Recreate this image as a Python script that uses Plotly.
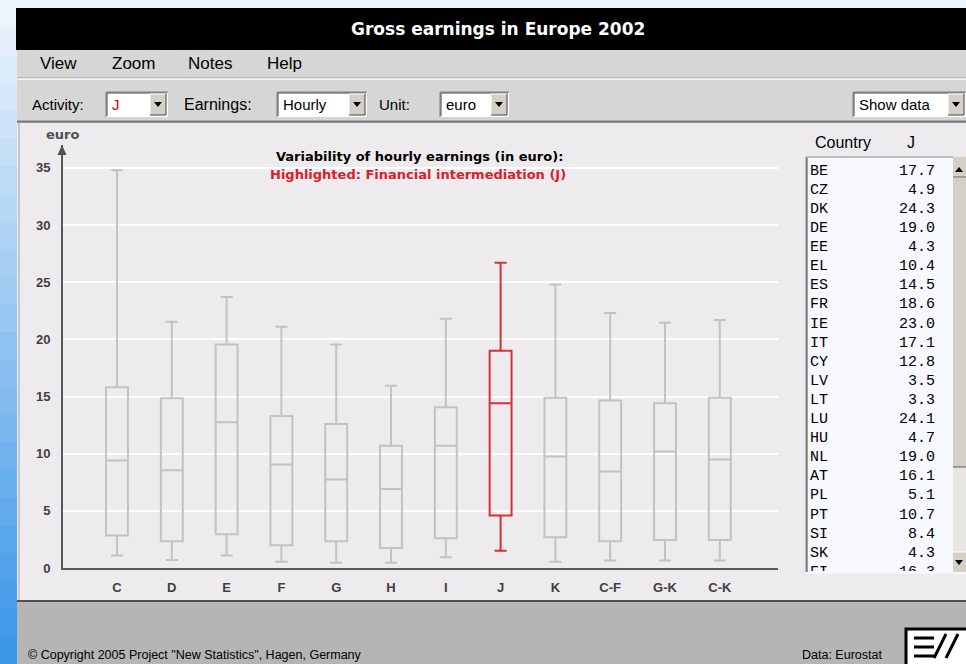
import plotly.graph_objects as go

# boxplot data: hourly earnings (euro) by activity
categories = ["C", "D", "E", "F", "G", "H", "I", "J", "K", "C-F", "G-K", "C-K"]
lower = [1.1, 0.7, 1.1, 0.55, 0.45, 0.45, 0.95, 1.5, 0.55, 0.65, 0.65, 0.65]
q1 = [2.85, 2.35, 2.95, 2.0, 2.35, 1.75, 2.6, 4.6, 2.7, 2.35, 2.45, 2.45]
median = [9.4, 8.55, 12.75, 9.05, 7.75, 6.9, 10.7, 14.4, 9.75, 8.45, 10.2, 9.5]
q3 = [15.8, 14.85, 19.55, 13.3, 12.6, 10.7, 14.05, 19.0, 14.9, 14.65, 14.4, 14.9]
upper = [34.8, 21.55, 23.7, 21.1, 19.55, 15.95, 21.8, 26.7, 24.8, 22.3, 21.45, 21.7]
highlight = "J"
y_ticks = [0, 5, 10, 15, 20, 25, 30, 35]

# side table (activity J)
countries = ["BE", "CZ", "DK", "DE", "EE", "EL", "ES", "FR", "IE", "IT", "CY",
             "LV", "LT", "LU", "HU", "NL", "AT", "PL", "PT", "SI", "SK", "FI"]
values_j = [17.7, 4.9, 24.3, 19.0, 4.3, 10.4, 14.5, 18.6, 23.0, 17.1, 12.8,
            3.5, 3.3, 24.1, 4.7, 19.0, 16.1, 5.1, 10.7, 8.4, 4.3, 16.3]

W, H = 966, 664
PANEL = "#eeebef"
GRAYBAR = "#d6d6d6"
BOTTOM = "#b5b5b5"
SANS = "Liberation Sans"


def X(p):
    return p / W


def Y(p):
    return 1 - p / H


shapes = []
annots = []


def rect(x0, y0, x1, y1, fill, line=None, lw=0, layer="below"):
    shapes.append(dict(type="rect", xref="paper", yref="paper",
                       x0=X(x0), x1=X(x1), y0=Y(y1), y1=Y(y0),
                       fillcolor=fill, line=dict(color=line or fill, width=lw), layer=layer))


def line(x0, y0, x1, y1, color, lw=1, layer="below"):
    shapes.append(dict(type="line", xref="paper", yref="paper",
                       x0=X(x0), x1=X(x1), y0=Y(y0), y1=Y(y1),
                       line=dict(color=color, width=lw), layer=layer))


def tri(pts, color, layer="above"):
    p = "M " + " L ".join(f"{X(a)},{Y(b)}" for a, b in pts) + " Z"
    shapes.append(dict(type="path", xref="paper", yref="paper", path=p,
                       fillcolor=color, line=dict(color=color, width=0), layer=layer))


def text(x, y, s, size, color="#000000", family=SANS, xanchor="left", bold=False):
    annots.append(dict(x=X(x), y=Y(y), xref="paper", yref="paper", text=s, showarrow=False,
                       xanchor=xanchor, yanchor="middle",
                       font=dict(size=size, color=color, family=family,
                                 weight="bold" if bold else "normal")))


def combo(x0, x1, label, color="#000000"):
    y0, y1 = 92, 117
    rect(x0, y0, x1, y1, "#ffffff")
    line(x0, y0, x1, y0, "#808080")
    line(x0, y0, x0, y1, "#808080")
    line(x0 + 1, y0 + 1, x1 - 1, y0 + 1, "#404040")
    line(x0 + 1, y0 + 1, x0 + 1, y1 - 1, "#404040")
    bx0, bx1 = x1 - 18, x1 - 2
    rect(bx0, y0 + 2, bx1, y1 - 2, "#d4d0c8")
    line(bx0, y0 + 2, bx1, y0 + 2, "#ffffff")
    line(bx0, y0 + 2, bx0, y1 - 2, "#ffffff")
    line(bx1, y0 + 2, bx1, y1 - 2, "#404040")
    line(bx0, y1 - 2, bx1, y1 - 2, "#404040")
    cx = (bx0 + bx1) / 2
    tri([(cx - 4, 102), (cx + 4, 102), (cx, 107)], "#000000")
    text(x0 + 4, 105, label, 15, color)


# desktop background strip on the left and top
steps = 24
for i in range(steps):
    t = i / (steps - 1)
    r = int(236 + (60 - 236) * t)
    g = int(244 + (150 - 244) * t)
    b = int(252 + (232 - 252) * t)
    rect(0, H * i / steps, 17, H * (i + 1) / steps + 1, f"rgb({r},{g},{b})")
rect(17, 0, W, 8, "#eef4fb")

# title bar
rect(16, 8, W, 50, "#000000")
text(498, 29, "Gross earnings in Europe 2002", 17, "#ffffff", "DejaVu Sans", "center", True)

# menu bar
rect(17, 50, W, 78, GRAYBAR)
line(17, 78, W, 78, "#a0a0a0")
line(17, 79, W, 79, "#ffffff")
for label, xm in [("View", 38), ("Zoom", 110), ("Notes", 186), ("Help", 265)]:
    text(xm, 64, label, 17)

# toolbar
rect(17, 80, W, 122, GRAYBAR)
line(17, 121, W, 121, "#808080")
line(17, 122, W, 122, "#404040")
text(30, 105, "Activity:", 15)
combo(106, 168, "J", "#e00000")
text(182, 105, "Earnings:", 16)
combo(277, 367, "Hourly")
text(377, 105, "Unit:", 15)
combo(440, 509, "euro")
combo(853, 966, "Show data")

# chart panel
rect(17, 123, W, 600, PANEL)
line(19, 123, 19, 600, "#a0a0a0")

# bottom panel
rect(17, 601, W, H, BOTTOM)
line(17, 601, W, 601, "#505050", 2)
text(26, 655, "\u00a9 Copyright 2005 Project \"New Statistics\", Hagen, Germany", 12.5)
text(800, 655, "Data: Eurostat", 12.5)
# logo
rect(906, 629, W + 2, H + 2, "#ffffff", "#000000", 3)
for yy in (638, 647, 656):
    line(914, yy, 934, yy, "#000000", 3)
line(934, 658, 946, 634, "#000000", 3)
line(946, 658, 958, 634, "#000000", 3)

# side table frame
text(813, 142, "Country", 16)
text(905, 142, "J", 16)
rect(806, 157, 953, 572, "#f8f8ff")
line(806, 157, 953, 157, "#808080")
line(806, 157, 806, 572, "#808080")
line(807, 158, 807, 572, "#404040")
line(806, 573, 966, 573, "#ffffff")
# scrollbar
rect(953, 157, W, 572, "#e8e6e2")
rect(953, 177, W, 467, "#d4d0c8")
line(953, 177, W, 177, "#ffffff")
line(953, 467, W, 467, "#606060")
rect(953, 157, W, 177, "#d4d0c8")
line(953, 177, W, 177, "#606060")
tri([(955, 172), (963, 172), (959, 167)], "#000000")
rect(953, 552, W, 572, "#d4d0c8")
line(953, 552, W, 552, "#ffffff")
tri([(955, 560), (963, 560), (959, 565)], "#000000")

# chart titles and axis decoration
text(419, 156, "Variability of hourly earnings (in euro):", 13, "#000000", "DejaVu Sans", "center", True)
text(418, 175, "Highlighted: Financial intermediation (J)", 13, "#d8202c", "DejaVu Sans", "center", True)
text(62, 134, "euro", 13, "#505050", "DejaVu Sans", "center", True)
tri([(57.5, 155), (66.5, 155), (62, 145)], "#505050")

fig = go.Figure()
idx = [i for i, c in enumerate(categories) if c != highlight]
fig.add_trace(go.Box(
    x=[categories[i] for i in idx],
    q1=[q1[i] for i in idx], median=[median[i] for i in idx], q3=[q3[i] for i in idx],
    lowerfence=[lower[i] for i in idx], upperfence=[upper[i] for i in idx],
    width=0.4, whiskerwidth=0.55, boxpoints=False,
    line=dict(color="#c2c2c2", width=2), fillcolor="rgba(0,0,0,0)", showlegend=False,
))
j = categories.index(highlight)
fig.add_trace(go.Box(
    x=[highlight], q1=[q1[j]], median=[median[j]], q3=[q3[j]],
    lowerfence=[lower[j]], upperfence=[upper[j]],
    width=0.4, whiskerwidth=0.55, boxpoints=False,
    line=dict(color="#d8303a", width=2), fillcolor="rgba(0,0,0,0)", showlegend=False,
))

# table rows as text traces on their own axes, clipped to the list box
rows = list(range(len(countries)))
monofont = dict(family="Liberation Mono", size=15, color="#000000")
fig.add_trace(go.Scatter(x=[0] * len(rows), y=rows, text=countries, mode="text",
                         textposition="middle right", textfont=monofont, cliponaxis=True,
                         xaxis="x2", yaxis="y2", showlegend=False, hoverinfo="skip"))
fig.add_trace(go.Scatter(x=[1] * len(rows), y=rows, text=[f"{v:.1f}" for v in values_j],
                         mode="text", textposition="middle left", textfont=monofont,
                         cliponaxis=True, xaxis="x2", yaxis="y2", showlegend=False,
                         hoverinfo="skip"))

tickfont = dict(family=SANS, size=13, color="#404040", weight="bold")
row_h = 19.1
fig.update_layout(
    width=W, height=H,
    margin=dict(l=0, r=0, t=0, b=0),
    paper_bgcolor=PANEL, plot_bgcolor="rgba(0,0,0,0)",
    shapes=shapes, annotations=annots,
    xaxis=dict(domain=[X(63), X(778)], type="category",
               categoryorder="array", categoryarray=categories,
               range=[(63 - 117) / 54.8, (778 - 117) / 54.8],
               showgrid=False, zeroline=False, showline=True, linecolor="#5a5a5a", linewidth=2,
               ticks="", tickfont=tickfont, ticklabelstandoff=6, automargin=False),
    yaxis=dict(domain=[Y(568), Y(145)], range=[0, 37], tickvals=y_ticks,
               showgrid=True, gridcolor="#ffffff", gridwidth=2, zeroline=False,
               showline=True, linecolor="#5a5a5a", linewidth=2,
               ticks="", tickfont=tickfont, ticklabelstandoff=8, automargin=False),
    xaxis2=dict(domain=[X(808), X(952)], anchor="y2",
                range=[(808 - 810) / 125, (952 - 810) / 125],
                visible=False, fixedrange=True),
    yaxis2=dict(domain=[Y(571), Y(158)], anchor="x2",
                range=[(571 - 171) / row_h, (158 - 171) / row_h],
                visible=False, fixedrange=True),
    boxmode="overlay",
)

# the page body has a default 8px margin; remove it so the figure fills the window
fig.write_html("out.html", config={"displayModeBar": False},
               post_script="document.body.style.margin='0';document.body.style.overflow='hidden';")
